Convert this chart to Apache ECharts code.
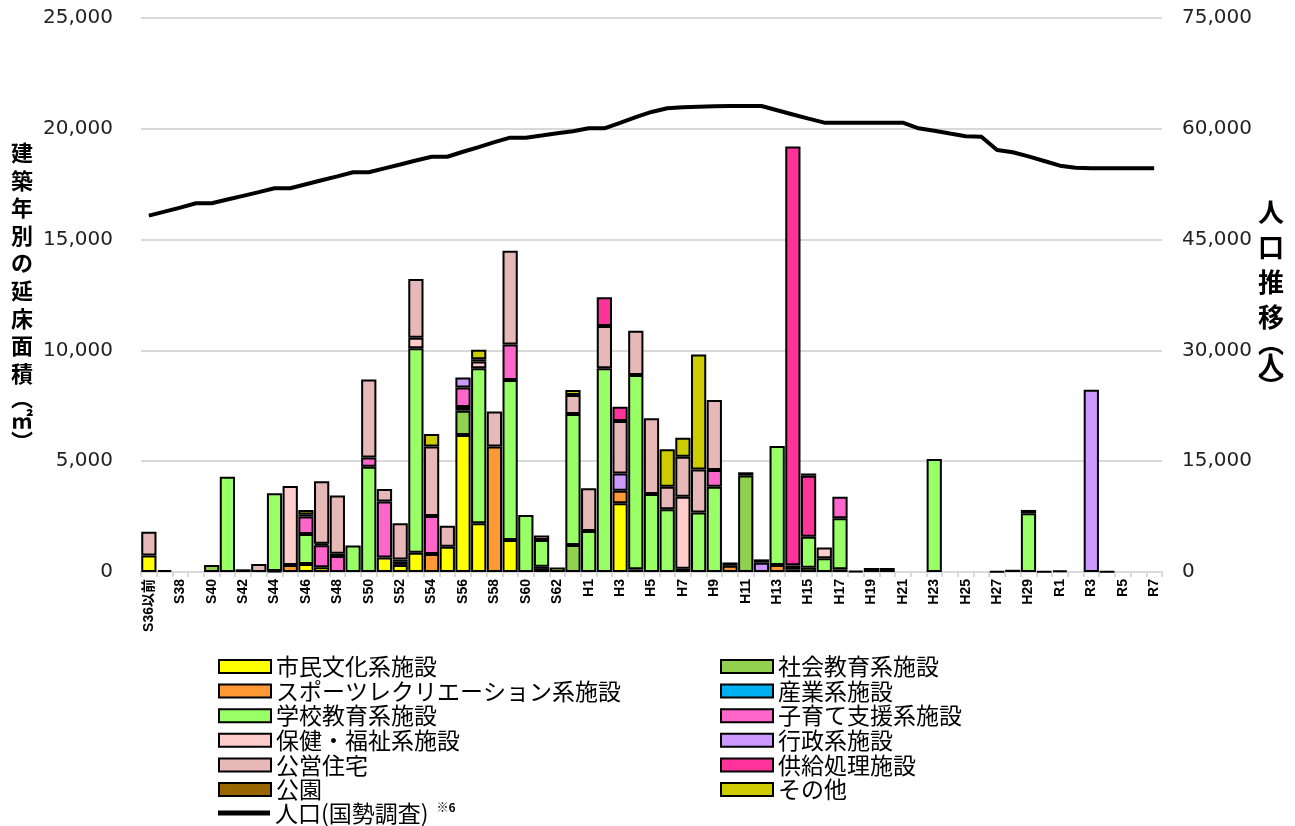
<!DOCTYPE html>
<html><head><meta charset="utf-8">
<script src="https://cdn.jsdelivr.net/npm/echarts@6/dist/echarts.min.js"></script>
<style>html,body{margin:0;padding:0;background:#fff}#c{width:1295px;height:826px}</style>
</head><body><div id="c"></div>
<script>
const categories = ['S36以前','S37','S38','S39','S40','S41','S42','S43','S44','S45','S46','S47','S48','S49','S50','S51','S52','S53','S54','S55','S56','S57','S58','S59','S60','S61','S62','S63',
'H1','H2','H3','H4','H5','H6','H7','H8','H9','H10','H11','H12','H13','H14','H15','H16','H17','H18','H19','H20','H21','H22','H23','H24','H25','H26','H27','H28','H29','H30',
'R1','R2','R3','R4','R5','R6','R7'];

const shimin = [750,80,0,0,0,0,0,0,50,0, 360,210,0,0,0,650,320,870,0,1140, 6180,2200,0,1440,0,140,200,0,0,0, 3100,120,0,0,150,0,0,0,0,0, 0,120,195,0,120,0,0,0,0,0, 0,0,0,0,0,0,0,0,0,0, 0,0,0,0,0];
const shakai = [0,0,0,0,320,0,0,0,0,0, 0,0,0,0,0,0,0,0,0,0, 1100,0,0,0,0,0,0,1220,0,0, 0,0,0,0,0,0,0,0,4350,0, 0,0,0,0,0,0,0,0,0,0, 0,0,0,0,0,0,0,0,0,0, 0,0,0,0,0];
const sports = [0,0,0,0,0,0,0,0,0,320, 0,0,0,0,0,0,0,0,810,0, 0,0,5660,0,0,100,0,0,0,0, 570,0,0,0,0,0,0,280,0,0, 320,0,0,0,0,0,0,0,0,0, 0,0,0,0,0,0,0,0,0,0, 0,0,0,0,0];
const sangyo = [0,0,0,0,0,0,0,0,0,0, 0,0,0,0,0,0,0,0,0,0, 0,0,0,0,0,0,0,0,0,0, 0,0,0,0,0,0,0,0,0,0, 0,0,0,0,0,0,0,0,0,0, 0,0,0,0,0,0,0,0,0,0, 0,0,0,0,0];
const gakko = [0,0,0,0,0,4300,0,0,3500,0, 1360,0,0,1200,4750,0,140,9225,0,0, 170,7000,0,7220,2570,1200,0,5910,1850,9190, 0,8770,3520,2830,0,2680,3850,0,0,0, 5370,0,1400,620,2300,0,0,0,0,0, 5100,0,0,0,0,0,2650,0,0,0, 0,0,0,0,0];
const kosodate = [0,0,0,0,0,0,0,0,0,0, 780,1000,720,0,420,2530,0,0,1720,0, 880,0,0,1610,0,0,0,0,0,0, 0,0,0,0,0,0,750,0,0,0, 0,0,0,0,980,0,0,0,0,0, 0,0,0,0,0,0,0,0,0,0, 0,0,0,0,0];
const hoken = [0,0,0,0,0,0,0,0,0,3560, 0,60,0,0,0,0,0,480,0,0, 0,300,0,0,0,0,0,0,0,0, 0,0,0,0,3250,0,0,0,0,0, 0,0,0,480,0,0,0,0,0,0, 0,0,0,0,0,0,0,0,0,0, 0,0,0,0,0];
const gyosei = [0,0,0,0,0,0,120,0,0,0, 0,0,100,0,0,0,100,0,0,0, 450,0,0,0,0,0,0,0,0,0, 780,0,0,0,0,0,0,0,0,420, 0,0,0,0,0,0,0,0,0,0, 0,0,0,0,0,0,0,0,0,0, 8220,0,0,0,0];
const koei = [1070,0,0,0,0,0,0,360,0,0, 0,2830,2630,0,3520,560,1640,2650,3130,950, 0,100,1580,4230,0,210,0,860,1930,1910, 2360,2000,3420,1020,1800,1950,3160,0,0,0, 0,180,0,0,0,0,0,0,0,0, 0,0,0,0,0,0,0,0,0,0, 0,0,0,0,0];
const kyokyu = [0,0,0,0,0,0,0,0,0,0, 0,0,0,0,0,0,0,0,0,0, 0,0,0,0,0,0,0,0,0,1300, 650,0,0,0,0,0,0,0,0,0, 0,18900,2750,0,0,0,0,0,0,0, 0,0,0,0,0,0,0,0,0,0, 0,0,0,0,0];
const koen = [0,0,0,0,0,0,0,0,0,0, 100,0,0,0,0,0,0,0,0,0, 0,0,0,0,0,0,0,0,0,0, 0,0,0,0,0,0,0,150,150,150, 0,0,100,0,0,50,180,180,0,0, 0,0,0,0,30,100,150,30,60,0, 0,20,0,0,0];
const sonota = [0,0,0,0,0,0,0,0,0,0, 200,0,0,0,0,0,0,0,570,0, 0,430,0,0,0,0,0,220,0,0, 0,0,0,1690,860,5190,0,0,0,0, 0,0,0,0,0,0,0,0,0,0, 0,0,0,0,0,0,0,0,0,0, 0,0,0,0,0];

const population = [48240,48780,49330,49920,49920,50420,50920,51420,51950,51950,
52490,53030,53560,54110,54110,54640,55170,55710,56220,56220,
56890,57520,58190,58800,58800,59090,59390,59680,60070,60070,
60800,61570,62280,62780,62910,62990,63050,63090,63090,63090,
62510,61940,61370,60830,60830,60830,60830,60830,60830,60070,
59740,59360,58990,58930,57130,56820,56260,55640,55010,54730,
54670,54670,54670,54670,54670];

const leftTicks = {min:0, max:25000, interval:5000};
const rightTicks = {min:0, max:75000, interval:15000};

const barSeries = [
  ['市民文化系施設', shimin, '#FFFF00'],
  ['社会教育系施設', shakai, '#92D050'],
  ['スポーツレクリエーション系施設', sports, '#FF9933'],
  ['産業系施設', sangyo, '#00B0F0'],
  ['学校教育系施設', gakko, '#99FF66'],
  ['子育て支援系施設', kosodate, '#FF66CC'],
  ['保健・福祉系施設', hoken, '#FFCCCC'],
  ['行政系施設', gyosei, '#CC99FF'],
  ['公営住宅', koei, '#E6B8B7'],
  ['供給処理施設', kyokyu, '#FF3399'],
  ['公園', koen, '#996600'],
  ['その他', sonota, '#CCCC00']
];
const popName = '人口(国勢調査)';

const chart = echarts.init(document.getElementById('c'));
const series = barSeries.map(([name, data, color]) => ({
  name, type:'bar', stack:'total', barCategoryGap:'3%',
  data: data.map(v => v === 0 ? null : v),
  itemStyle:{color, borderColor:'#000', borderWidth:2},
  emphasis:{disabled:true}
}));
series.push({
  name: popName, type:'line', yAxisIndex:1, data: population,
  symbol:'none', showSymbol:false, lineStyle:{color:'#000', width:4}, itemStyle:{color:'#000'}, z:10
});

const legText = {fontSize:23, lineHeight:23, color:'#000', fontFamily:'Noto Sans CJK JP',
  rich:{base:{fontSize:23, lineHeight:23, fontFamily:'Noto Sans CJK JP', color:'#000'},
        sup:{fontSize:12, lineHeight:23, fontWeight:'bold', fontFamily:'Noto Sans CJK JP', color:'#000', padding:[0,0,12,8]}}};
const legFmt = n => n === popName ? '{base|' + n + '}{sup|※6}' : n;
const leftNames = ['市民文化系施設','スポーツレクリエーション系施設','学校教育系施設','保健・福祉系施設','公営住宅','公園'];
const rightNames = ['社会教育系施設','産業系施設','子育て支援系施設','行政系施設','供給処理施設','その他'];

chart.setOption({
  animation:false,
  grid:{left:141, right:133, top:18, bottom:254, containLabel:false},
  legend:[
    {orient:'vertical', left:213, top:650, height:200, itemWidth:52, itemHeight:13, itemGap:1.6, selectedMode:false,
     data: leftNames.map(n => ({name:n, icon:'rect'})),
     textStyle:legText},
    {orient:'vertical', left:213, top:796, height:40, itemWidth:52, itemHeight:5, itemGap:1.6, selectedMode:false,
     data: [{name:popName, icon:'rect'}],
     textStyle:legText, formatter:legFmt},
    {orient:'vertical', left:715, top:650, height:200, itemWidth:52, itemHeight:13, itemGap:1.6, selectedMode:false,
     data: rightNames.map(n => ({name:n, icon:'rect'})),
     textStyle:legText}
  ],
  xAxis:{type:'category', data:categories,
    axisLine:{lineStyle:{color:'#d9d9d9', width:2}},
    axisTick:{show:true, interval:0, length:5, lineStyle:{color:'#d9d9d9', width:2}},
    axisLabel:{interval:1, rotate:90, margin:7, fontSize:14, fontWeight:'bold', color:'#000',
      fontFamily:'Liberation Sans, Noto Sans CJK JP'}
  },
  yAxis:[
    {type:'value', min:leftTicks.min, max:leftTicks.max, interval:leftTicks.interval, position:'left',
     axisLine:{show:false}, axisTick:{show:false},
     splitLine:{lineStyle:{color:'#d9d9d9', width:2}},
     axisLabel:{margin:28, fontSize:20, color:'#222', fontFamily:'DejaVu Sans',
       formatter:v => v.toLocaleString('en-US')},
     name:'建\n築\n年\n別\nの\n延\n床\n面\n積\n{p|︵}\n{m|㎡}\n{p|︶}',
     nameLocation:'middle', nameRotate:0, nameGap:119,
     nameTextStyle:{align:'center', verticalAlign:'middle', fontSize:22, fontWeight:'bold', color:'#000',
       fontFamily:'Noto Sans CJK JP', lineHeight:27.6,
       rich:{p:{fontSize:22, fontWeight:'bold', lineHeight:20, color:'#000', fontFamily:'Noto Sans CJK JP'},
             m:{fontSize:22, fontWeight:'bold', lineHeight:24, color:'#000', fontFamily:'Noto Sans CJK JP'}}}
    },
    {type:'value', min:rightTicks.min, max:rightTicks.max, interval:rightTicks.interval, position:'right',
     axisLine:{show:false}, axisTick:{show:false}, splitLine:{show:false},
     axisLabel:{margin:20, fontSize:20, color:'#222', fontFamily:'DejaVu Sans'},
     name:'人\n口\n推\n移\n{p|︵}\n{m|人}\n{p|︶}',
     nameLocation:'middle', nameRotate:0, nameGap:106,
     nameTextStyle:{align:'center', verticalAlign:'middle', fontSize:26, fontWeight:'bold', color:'#000',
       fontFamily:'Noto Sans CJK JP', lineHeight:35,
       rich:{p:{fontSize:26, fontWeight:'bold', lineHeight:17, color:'#000', fontFamily:'Noto Sans CJK JP'},
             m:{fontSize:26, fontWeight:'bold', lineHeight:26, color:'#000', fontFamily:'Noto Sans CJK JP'}}}
    }
  ],
  series
});
</script></body></html>
